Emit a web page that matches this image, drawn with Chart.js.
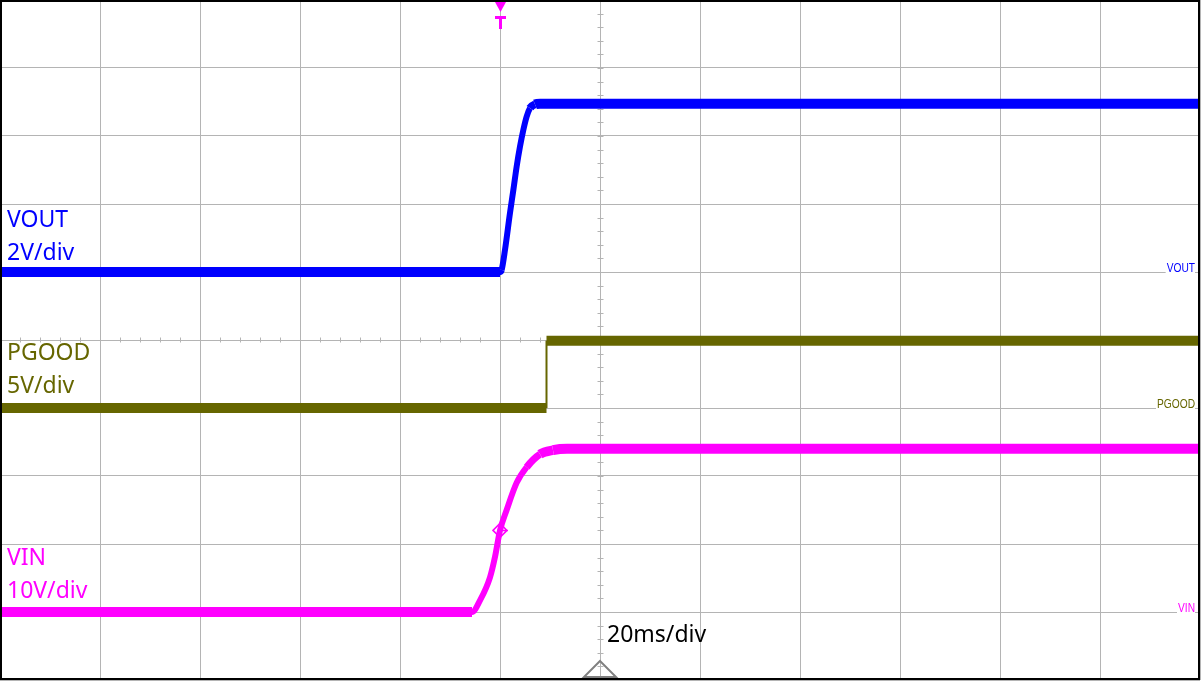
<!DOCTYPE html>
<html>
<head>
<meta charset="utf-8">
<script src="https://cdn.jsdelivr.net/npm/chart.js@4"></script>
<style>
  html, body { margin: 0; padding: 0; background: #fff; }
  #scope { display: block; }
</style>
</head>
<body>
<canvas id="scope" width="1201" height="681"></canvas>
<script>
// time in ms (trigger at 0), 20 ms per division, 12 divisions
const timeRange = [-100, 140];
const timeStep = 20;
const divRange = [0, 10];

// VOUT, volts
const voutTime  = [-100, 0, 0.33, 1, 2, 2.67, 3.33, 4, 4.67, 5.33, 6, 7, 8, 140];
const voutVolts = [0, 0, 0.06, 0.65, 1.74, 2.41, 3.1, 3.69, 4.18, 4.57, 4.82, 4.93, 4.95, 4.95];

// PGOOD, volts
const pgoodTime  = [-100, 9.3, 9.3, 140];
const pgoodVolts = [0, 0, 4.95, 4.95];

// VIN, volts
const vinTime  = [-100, -5.6, -4, -2, -1, 0, 1.33, 3.33, 5.33, 8, 10.6, 13.4, 140];
const vinVolts = [0, 0, 1.7, 5.1, 8.1, 12.0, 15.0, 19.0, 21.3, 23.2, 23.8, 24.0, 24.0];

// channel setup
const channelNames = ['VOUT', 'PGOOD', 'VIN'];
const channelScales = ['2V/div', '5V/div', '10V/div'];
const voltsPerDiv = [2, 5, 10];
const channelOffset = [6, 4, 1];
const channelColors = ['#0000ff', '#666600', '#ff00ff'];
const timebaseLabel = '20ms/div';

const gridColor = '#b4b4b4';

function toDiv(times, volts, ch) {
  return times.map((t, i) => ({ x: t, y: channelOffset[ch] + volts[i] / voltsPerDiv[ch] }));
}

// the noise band is ~10px tall, so steep parts look thinner
function bandWidth(ctx) {
  const dx = Math.abs(ctx.p1.x - ctx.p0.x);
  const dy = Math.abs(ctx.p1.y - ctx.p0.y);
  if (dx < 0.5) return 2;
  return Math.max(6, 10 * dx / Math.hypot(dx, dy));
}

const scopeDecor = {
  id: 'scopeDecor',
  beforeDatasetsDraw(chart) {
    const { ctx, scales: { x, y } } = chart;
    const cx = Math.round(x.getPixelForValue(20)) + 0.5;
    const cy = Math.round(y.getPixelForValue(5)) + 0.5;
    ctx.save();
    ctx.strokeStyle = gridColor;
    ctx.lineWidth = 1;
    ctx.beginPath();
    for (let v = divRange[0]; v <= divRange[1] + 0.001; v += 0.2) {
      const py = Math.round(y.getPixelForValue(v)) + 0.5;
      ctx.moveTo(cx - 3, py);
      ctx.lineTo(cx + 3, py);
    }
    for (let t = timeRange[0]; t <= timeRange[1]; t += 4) {
      const px = Math.round(x.getPixelForValue(t)) + 0.5;
      ctx.moveTo(px, cy - 3);
      ctx.lineTo(px, cy + 2);
    }
    ctx.stroke();
    ctx.restore();
  },
  afterDatasetsDraw(chart) {
    const { ctx, chartArea: a, scales: { x, y } } = chart;
    ctx.save();

    // left channel labels
    const leftBase = [227, 360, 565];
    ctx.font = '23px "Noto Sans"';
    ctx.textAlign = 'left';
    ctx.textBaseline = 'alphabetic';
    channelNames.forEach((name, i) => {
      ctx.fillStyle = channelColors[i];
      ctx.fillText(name, 7, leftBase[i]);
      ctx.fillText(channelScales[i], 7, leftBase[i] + 33);
    });

    // right ground markers
    ctx.font = '12px "Liberation Sans"';
    channelNames.forEach((name, i) => {
      const py = Math.round(y.getPixelForValue(channelOffset[i]));
      const w = ctx.measureText(name).width * 0.85;
      const right = 1195;
      ctx.fillStyle = '#fff';
      ctx.fillRect(right - w - 1, py - 11, w + 1, 12);
      ctx.save();
      ctx.translate(right - w, py);
      ctx.scale(0.85, 1);
      ctx.fillStyle = channelColors[i];
      ctx.textAlign = 'left';
      ctx.fillText(name, 0, 0);
      ctx.restore();
    });

    // frame
    ctx.strokeStyle = '#000';
    ctx.lineWidth = 2;
    ctx.strokeRect(1, 1, 1198, 678);

    // trigger position marker
    const tx = Math.round(x.getPixelForValue(0));
    ctx.fillStyle = '#ff00ff';
    ctx.beginPath();
    ctx.moveTo(tx - 5, 2);
    ctx.lineTo(tx + 6, 2);
    ctx.lineTo(tx + 0.5, 12);
    ctx.closePath();
    ctx.fill();
    ctx.fillRect(tx - 5, 16, 11, 3);
    ctx.fillRect(tx - 1, 19, 3, 10);

    // trigger level diamond on VIN
    const dx = x.getPixelForValue(0);
    const dy = y.getPixelForValue(channelOffset[2] + 12 / voltsPerDiv[2]);
    ctx.strokeStyle = '#ff00ff';
    ctx.lineWidth = 1.5;
    ctx.beginPath();
    ctx.moveTo(dx - 7, dy);
    ctx.lineTo(dx, dy - 7);
    ctx.lineTo(dx + 7, dy);
    ctx.lineTo(dx, dy + 7);
    ctx.closePath();
    ctx.moveTo(dx, dy);
    ctx.lineTo(dx + 8, dy);
    ctx.stroke();

    // horizontal position marker
    const hx = x.getPixelForValue(20);
    ctx.strokeStyle = '#808080';
    ctx.lineWidth = 2;
    ctx.beginPath();
    ctx.moveTo(hx, a.bottom - 19);
    ctx.lineTo(hx + 16, a.bottom - 3);
    ctx.lineTo(hx - 16, a.bottom - 3);
    ctx.closePath();
    ctx.stroke();

    // timebase
    ctx.fillStyle = '#000';
    ctx.font = '23px "Noto Sans"';
    ctx.fillText(timebaseLabel, 607, 642);
    ctx.restore();
  }
};

new Chart(document.getElementById('scope').getContext('2d'), {
  type: 'line',
  data: {
    datasets: [
      {
        label: channelNames[0],
        data: toDiv(voutTime, voutVolts, 0),
        borderColor: channelColors[0],
        borderWidth: 10,
        borderCapStyle: 'butt',
        borderJoinStyle: 'round',
        cubicInterpolationMode: 'monotone',
        pointRadius: 0,
        segment: { borderWidth: bandWidth }
      },
      {
        label: channelNames[1],
        data: toDiv(pgoodTime, pgoodVolts, 1),
        borderColor: channelColors[1],
        borderWidth: 10,
        borderCapStyle: 'butt',
        tension: 0,
        pointRadius: 0,
        segment: { borderWidth: bandWidth }
      },
      {
        label: channelNames[2],
        data: toDiv(vinTime, vinVolts, 2),
        borderColor: channelColors[2],
        borderWidth: 11,
        borderCapStyle: 'butt',
        borderJoinStyle: 'round',
        cubicInterpolationMode: 'monotone',
        pointRadius: 0,
        segment: { borderWidth: bandWidth }
      }
    ]
  },
  options: {
    responsive: false,
    animation: false,
    devicePixelRatio: 1,
    layout: { padding: { left: 0, top: 0, right: 1, bottom: 1 } },
    plugins: {
      legend: { display: false },
      tooltip: { enabled: false }
    },
    scales: {
      x: {
        type: 'linear',
        min: timeRange[0],
        max: timeRange[1],
        ticks: { display: false, stepSize: timeStep },
        grid: { color: gridColor, lineWidth: 1, drawTicks: false },
        border: { display: false }
      },
      y: {
        min: divRange[0],
        max: divRange[1],
        ticks: { display: false, stepSize: 1 },
        grid: { color: gridColor, lineWidth: 1, drawTicks: false },
        border: { display: false }
      }
    }
  },
  plugins: [scopeDecor]
});
</script>
</body>
</html>
